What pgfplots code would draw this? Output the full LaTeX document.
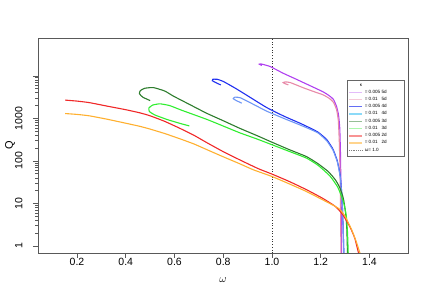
\documentclass[border=0pt]{standalone}
\usepackage{pgfplots}
\pgfplotsset{compat=1.18}
\usepackage{fontspec}
\setmainfont{Liberation Sans}
\definecolor{cpurple}{HTML}{B040F0}
\definecolor{cpink}{HTML}{E88AA8}
\definecolor{cblue}{HTML}{2030F0}
\definecolor{clblue}{HTML}{6E96F5}
\definecolor{cdgreen}{HTML}{2E7D2E}
\definecolor{cgreen}{HTML}{30EE30}
\definecolor{cred}{HTML}{F02828}
\definecolor{corange}{HTML}{FFB030}
\newcommand\legbox[1]{\makebox[36pt][l]{#1}}
\begin{document}
\begin{tikzpicture}
\useasboundingbox (0pt,0pt) rectangle (432pt,300pt);
\begin{axis}[at={(38pt,47pt)}, anchor=south west, scale only axis,
  width=370pt, height=215pt,
  xmin=0.04, xmax=1.558, ymode=log, ymin=0.684, ymax=77600,
  xtick={0.2,0.4,0.6,0.8,1.0,1.2,1.4},
  xticklabels={0.2,0.4,0.6,0.8,1.0,1.2,1.4},
  ytick={1,10,100,1000,10000},
  yticklabels={1,10,100,1000,{}},
  tick align=outside, major tick length=5pt, tick pos=left,
  axis line style={black!65}, tick style={black!65, line width=0.6pt},
  every axis plot/.append style={line width=1.1pt},
  ticklabel style={font=\fontsize{10.5}{12}\selectfont},
  xticklabel style={yshift=3pt},
  yticklabel style={rotate=90, anchor=south, yshift=7pt},
  xlabel={$\omega$}, ylabel={Q},
  label style={font=\fontsize{11}{13}\selectfont},
  xlabel style={at={(axis description cs:0.5,-0.1256)}, anchor=center},
  ylabel style={at={(axis description cs:-0.0757,0.5)}, anchor=center},
  legend style={at={(rel axis cs:0.834,0.805)}, anchor=north west,
    font=\fontsize{4.6}{5}\selectfont, draw=black!60, inner sep=1.5pt,
    row sep=-1.6pt, cells={anchor=west}},
  legend image code/.code={\draw[#1] (0pt,0pt) -- (13pt,0pt);},
]
% legend
\addlegendimage{empty legend}\addlegendentry{\hspace{-5pt}κ}
\addlegendimage{color=cpurple!35, line width=1.5pt}\addlegendentry{\legbox{= 0.005 5d}}
\addlegendimage{color=cpink!45, line width=1.5pt}\addlegendentry{\legbox{= 0.01\phantom{5} 5d}}
\addlegendimage{color=cblue!70, line width=1.2pt}\addlegendentry{\legbox{= 0.005 4d}}
\addlegendimage{color=cyan!45, line width=1.5pt}\addlegendentry{\legbox{= 0.01\phantom{5} 4d}}
\addlegendimage{color=cdgreen!50, line width=1.5pt}\addlegendentry{\legbox{= 0.005 3d}}
\addlegendimage{color=cgreen!40, line width=1.5pt}\addlegendentry{\legbox{= 0.01\phantom{5} 3d}}
\addlegendimage{color=cred!50, line width=1.5pt}\addlegendentry{\legbox{= 0.005 2d}}
\addlegendimage{color=corange!55, line width=1.5pt}\addlegendentry{\legbox{= 0.01\phantom{5} 2d}}
\addlegendimage{color=black!50, line width=0.6pt, dash pattern=on 0.6pt off 1.2pt}\addlegendentry{\legbox{ω= 1.0}}

% vertical reference
\addplot[forget plot, black!80, line width=0.7pt, dash pattern=on 0.7pt off 2pt] coordinates {(1,0.684) (1,77600)};

% 0.005 5d
\addplot[forget plot, cpurple, smooth, tension=0.3] coordinates {
(0.958,17500) (0.948,18800) (0.956,19000) (0.992,16600) (1.046,11500) (1.1,8300)
(1.15,6100) (1.21,4200) (1.235,3400) (1.252,2800) (1.265,1900) (1.273,1200)
(1.278,600) (1.281,150) (1.283,20) (1.285,3) (1.286,0.6)};
% 0.01 5d
\addplot[forget plot, cpink, smooth, tension=0.3] coordinates {
(1.067,6150) (1.052,6600) (1.046,6940) (1.055,7200) (1.075,6950) (1.13,5200)
(1.18,4100) (1.21,3570) (1.235,2950) (1.252,2400) (1.265,1600) (1.272,900)
(1.276,300) (1.279,60) (1.281,10) (1.283,0.6)};
% 0.005 4d
\addplot[forget plot, cblue, smooth, tension=0.3] coordinates {
(0.79,6100) (0.77,6900) (0.755,7700) (0.757,8300) (0.775,8300) (0.8,7400)
(0.85,5100) (0.9,3400) (0.978,1800) (1.05,1120) (1.115,770) (1.16,580)
(1.19,470) (1.224,320) (1.25,190) (1.268,100) (1.28,45) (1.287,15)
(1.291,4) (1.295,0.6)};
% 0.01 4d
\addplot[forget plot, clblue, smooth, tension=0.3] coordinates {
(0.876,2280) (0.855,2600) (0.841,2900) (0.848,3150) (0.87,3050) (0.93,2050)
(0.978,1480) (1.05,990) (1.115,700) (1.16,545) (1.19,450) (1.224,300)
(1.25,180) (1.268,95) (1.28,42) (1.287,14) (1.291,4) (1.295,0.6)};
% 0.005 3d
\addplot[forget plot, cdgreen, smooth, tension=0.3] coordinates {
(0.50,2620) (0.47,3150) (0.456,3800) (0.46,4500) (0.478,5100) (0.513,5300)
(0.56,4400) (0.595,3350) (0.66,2150) (0.732,1320) (0.8,880) (0.869,580)
(0.94,390) (1.0,275) (1.07,185) (1.142,126) (1.19,85) (1.231,56) (1.26,36)
(1.279,23) (1.293,13) (1.302,6) (1.307,2.5) (1.31,0.6)};
% 0.01 3d
\addplot[forget plot, cgreen, smooth, tension=0.3] coordinates {
(0.661,665) (0.62,770) (0.57,940) (0.52,1200) (0.497,1450) (0.495,1750)
(0.51,2050) (0.54,2200) (0.58,2000) (0.63,1550) (0.732,950) (0.8,660)
(0.869,455) (0.94,325) (1.0,240) (1.07,168) (1.142,116) (1.19,78)
(1.238,44) (1.27,24) (1.293,11) (1.305,5) (1.31,2) (1.313,0.6)};
% 0.005 2d
\addplot[forget plot, cred, smooth, tension=0.3] coordinates {
(0.151,2690) (0.2,2550) (0.25,2350) (0.322,1950) (0.4,1600) (0.458,1350) (0.5,1150)
(0.56,850) (0.623,580) (0.68,400) (0.732,270) (0.8,165) (0.869,105)
(0.943,66) (1.0,49) (1.07,33) (1.142,21) (1.21,13) (1.26,8.5) (1.29,5.5)
(1.32,2.8) (1.34,1.5) (1.355,0.68)};
% 0.01 2d
\addplot[forget plot, corange, smooth, tension=0.3] coordinates {
(0.151,1300) (0.2,1240) (0.25,1150) (0.322,960) (0.4,770) (0.458,650) (0.5,560)
(0.56,440) (0.623,330) (0.68,250) (0.732,185) (0.8,125) (0.869,85)
(0.923,62) (1.0,43) (1.07,29) (1.142,19) (1.21,12) (1.26,8.5) (1.279,7.2)
(1.3,5) (1.327,2.4) (1.345,1.3) (1.361,0.68)};
\end{axis}
\end{tikzpicture}
\end{document}
